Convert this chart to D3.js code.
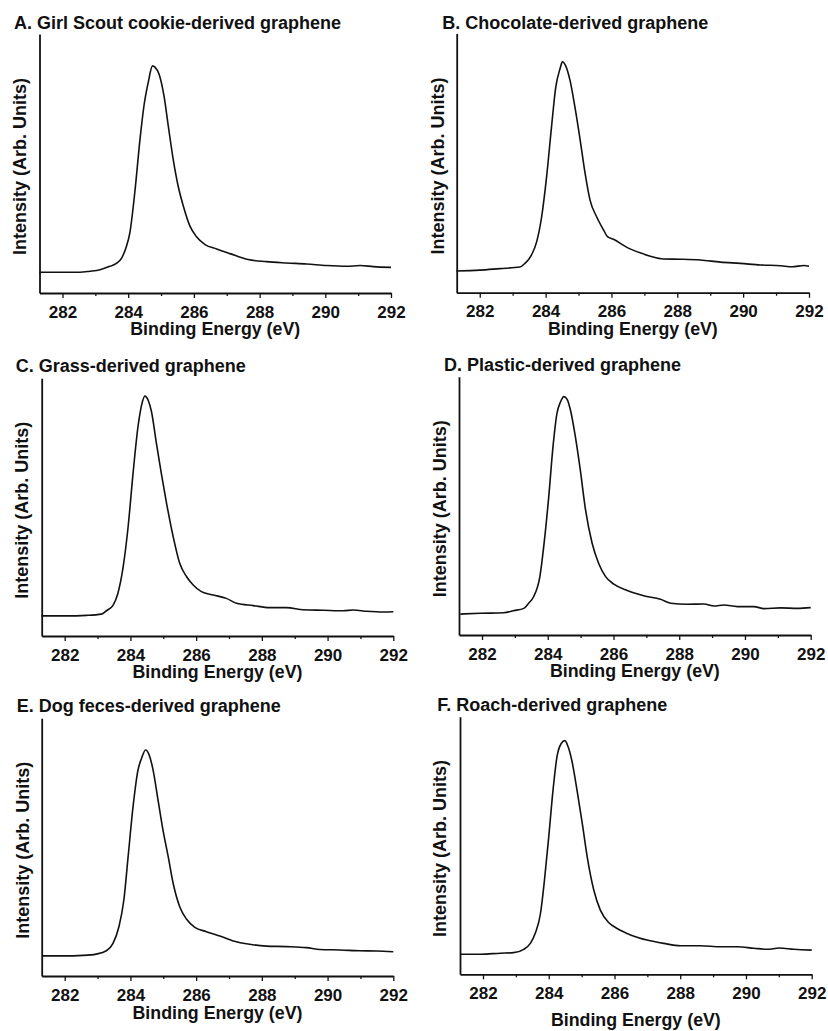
<!DOCTYPE html>
<html>
<head>
<meta charset="utf-8">
<script src="https://cdn.jsdelivr.net/npm/d3@7"></script>
<style>
  html, body { margin: 0; padding: 0; background: #ffffff; }
  svg { display: block; }
  text { font-family: "Liberation Sans", Arial, Helvetica, sans-serif; font-weight: bold; fill: #111; }
</style>
</head>
<body>
<svg id="chart" width="828" height="1031"></svg>
<script>
// ---------------- DATA ----------------
const panelTitles = [
  "A. Girl Scout cookie-derived graphene",
  "B. Chocolate-derived graphene",
  "C. Grass-derived graphene",
  "D. Plastic-derived graphene",
  "E. Dog feces-derived graphene",
  "F. Roach-derived graphene"
];
const xTickValues = [282, 284, 286, 288, 290, 292];
const xMinorTickValues = [283, 285, 287, 289, 291];
const xAxisTitle = "Binding Energy (eV)";
const yAxisTitle = "Intensity (Arb. Units)";
const xDomain = [281.3, 292];
const yDomain = [0, 1];

// A. Girl Scout cookie
const energyA = [281.29,281.92,282.53,282.83,283.14,283.44,283.64,283.80,283.93,284.05,284.20,284.36,284.48,284.61,284.74,284.82,284.94,285.09,285.22,285.37,285.52,285.68,285.88,286.08,286.34,286.69,287.10,287.65,288.21,288.82,289.43,290.04,290.65,291.06,291.46,292.0];
const intensityA = [0.080,0.080,0.080,0.084,0.090,0.103,0.114,0.135,0.174,0.232,0.387,0.594,0.723,0.813,0.877,0.871,0.845,0.761,0.645,0.516,0.413,0.335,0.258,0.217,0.187,0.170,0.152,0.129,0.121,0.116,0.112,0.106,0.103,0.106,0.102,0.099];

// B. Chocolate
const energyB = [281.29,282.0,282.61,283.22,283.37,283.57,283.73,283.88,284.03,284.18,284.31,284.44,284.51,284.61,284.74,284.89,285.05,285.20,285.35,285.55,285.76,285.88,286.06,286.47,286.87,287.18,287.58,288.09,288.70,289.31,289.92,290.53,291.14,291.49,291.85,292.0];
const intensityB = [0.084,0.087,0.093,0.099,0.113,0.145,0.197,0.293,0.447,0.640,0.794,0.865,0.891,0.875,0.820,0.717,0.589,0.460,0.357,0.293,0.242,0.216,0.206,0.175,0.154,0.141,0.130,0.129,0.126,0.118,0.113,0.107,0.104,0.100,0.105,0.102];

// C. Grass
const energyC = [281.29,282.05,282.66,283.12,283.27,283.47,283.62,283.78,283.93,284.08,284.23,284.34,284.44,284.54,284.64,284.79,284.94,285.10,285.30,285.50,285.71,285.91,286.16,286.52,286.92,287.23,287.74,288.24,288.75,289.26,289.87,290.48,290.78,291.19,291.70,292.0];
const intensityC = [0.078,0.078,0.080,0.085,0.098,0.119,0.166,0.269,0.424,0.631,0.812,0.896,0.931,0.915,0.871,0.748,0.631,0.515,0.386,0.282,0.230,0.198,0.172,0.159,0.146,0.127,0.118,0.110,0.110,0.102,0.100,0.098,0.101,0.096,0.093,0.094];

// D. Plastic
const energyD = [281.34,281.95,282.66,282.96,283.27,283.42,283.57,283.76,283.90,284.03,284.16,284.28,284.39,284.49,284.59,284.69,284.84,284.99,285.15,285.35,285.55,285.76,286.01,286.42,286.92,287.43,287.74,288.24,288.75,289.06,289.36,289.77,290.27,290.58,291.09,291.59,292.0];
const intensityD = [0.081,0.084,0.086,0.094,0.103,0.123,0.148,0.226,0.368,0.535,0.729,0.858,0.903,0.923,0.912,0.871,0.768,0.639,0.484,0.355,0.277,0.226,0.197,0.172,0.152,0.138,0.123,0.119,0.120,0.112,0.116,0.110,0.110,0.102,0.105,0.103,0.106];

// E. Dog feces
const energyE = [281.32,281.95,282.56,282.96,283.27,283.47,283.65,283.80,283.93,284.08,284.23,284.34,284.46,284.57,284.69,284.84,284.99,285.15,285.30,285.50,285.71,285.96,286.31,286.72,287.13,287.63,288.14,288.75,289.36,289.77,290.38,290.98,291.49,292.0];
const intensityE = [0.078,0.078,0.080,0.085,0.098,0.127,0.191,0.295,0.463,0.657,0.799,0.845,0.877,0.858,0.799,0.683,0.567,0.463,0.360,0.269,0.220,0.189,0.172,0.155,0.136,0.123,0.116,0.114,0.110,0.103,0.101,0.098,0.097,0.094];

// F. Roach
const energyF = [281.31,281.92,282.53,282.93,283.24,283.44,283.59,283.75,283.87,284.00,284.13,284.25,284.38,284.49,284.59,284.71,284.86,285.02,285.17,285.37,285.57,285.83,286.08,286.49,286.99,287.50,288.01,288.62,289.23,289.74,290.24,290.65,291.01,291.46,292.0];
const intensityF = [0.078,0.078,0.082,0.084,0.097,0.120,0.159,0.237,0.366,0.534,0.715,0.844,0.896,0.907,0.883,0.825,0.715,0.586,0.456,0.327,0.249,0.200,0.178,0.153,0.133,0.120,0.111,0.111,0.107,0.107,0.101,0.097,0.102,0.097,0.094];

const seriesEnergy = [energyA, energyB, energyC, energyD, energyE, energyF];
const seriesIntensity = [intensityA, intensityB, intensityC, intensityD, intensityE, intensityF];

// ---------------- LAYOUT ----------------
const panelBoxes = [
  {l: 39.5, r: 391,   t: 34,    b: 293,   tx: 14,    ty: 29,    yl: 20,    xlOff: 42},
  {l: 456.7,r: 809,   t: 33.5,  b: 292.7, tx: 442.3, ty: 29,    yl: 437.3, xlOff: 42},
  {l: 41.7, r: 393.3, t: 378.3, b: 636,   tx: 15.7,  ty: 371.7, yl: 21.7,  xlOff: 42},
  {l: 459,  r: 810.7, t: 376.7, b: 635,   tx: 444,   ty: 370.7, yl: 439.8, xlOff: 42},
  {l: 41.7, r: 393.3, t: 718.3, b: 976,   tx: 16.7,  ty: 712.3, yl: 22.5,  xlOff: 42.5},
  {l: 460,  r: 811.7, t: 716.7, b: 974.3, tx: 437.3, ty: 710.7, yl: 439.8, xlOff: 52}
];

const svg = d3.select("#chart");

panelBoxes.forEach((p, i) => {
  const g = svg.append("g");
  const x = d3.scaleLinear().domain(xDomain).range([p.l, p.r]);
  const y = d3.scaleLinear().domain(yDomain).range([p.b, p.t]);

  // title
  g.append("text")
    .attr("x", p.tx).attr("y", p.ty)
    .attr("font-size", 18)
    .text(panelTitles[i]);

  // minor ticks
  g.append("g")
    .attr("transform", `translate(0,${p.b})`)
    .call(d3.axisBottom(x).tickValues(xMinorTickValues).tickSize(3).tickSizeOuter(0).tickFormat(""))
    .call(a => a.select(".domain").remove())
    .call(a => a.selectAll(".tick line").attr("stroke", "#111").attr("stroke-width", 1.3));

  // major axis
  const xa = g.append("g")
    .attr("transform", `translate(0,${p.b})`)
    .call(d3.axisBottom(x).tickValues(xTickValues).tickSize(5).tickSizeOuter(0).tickPadding(6).tickFormat(d3.format("d")));
  xa.select(".domain").attr("stroke", "#111").attr("stroke-width", 1.8);
  xa.selectAll(".tick line").attr("stroke", "#111").attr("stroke-width", 1.3);
  xa.selectAll(".tick text")
    .attr("font-size", 17)
    .attr("font-family", "'Liberation Sans', Arial, sans-serif")
    .attr("font-weight", "bold")
    .attr("fill", "#111")
    .attr("dy", null)
    .attr("y", 24.5);

  // y axis (line only)
  const ya = g.append("g")
    .attr("transform", `translate(${p.l},0)`)
    .call(d3.axisLeft(y).tickValues([]).tickSizeOuter(0));
  ya.select(".domain").attr("stroke", "#111").attr("stroke-width", 1.8);

  // x label
  g.append("text")
    .attr("x", (p.l + p.r) / 2).attr("y", p.b + p.xlOff)
    .attr("text-anchor", "middle")
    .attr("font-size", 17.8)
    .text(xAxisTitle);

  // y label
  g.append("text")
    .attr("transform", `translate(${p.yl},${(p.t + p.b) / 2 + 3}) rotate(-90)`)
    .attr("text-anchor", "middle")
    .attr("dy", "0.35em")
    .attr("font-size", 18)
    .text(yAxisTitle);

  // curve
  const pts = seriesEnergy[i].map((e, k) => [e, seriesIntensity[i][k]]);
  g.append("path")
    .datum(pts)
    .attr("fill", "none")
    .attr("stroke", "#111")
    .attr("stroke-width", 1.6)
    .attr("stroke-linejoin", "round")
    .attr("d", d3.line().x(d => x(d[0])).y(d => y(d[1])).curve(d3.curveMonotoneX));
});
</script>
</body>
</html>
